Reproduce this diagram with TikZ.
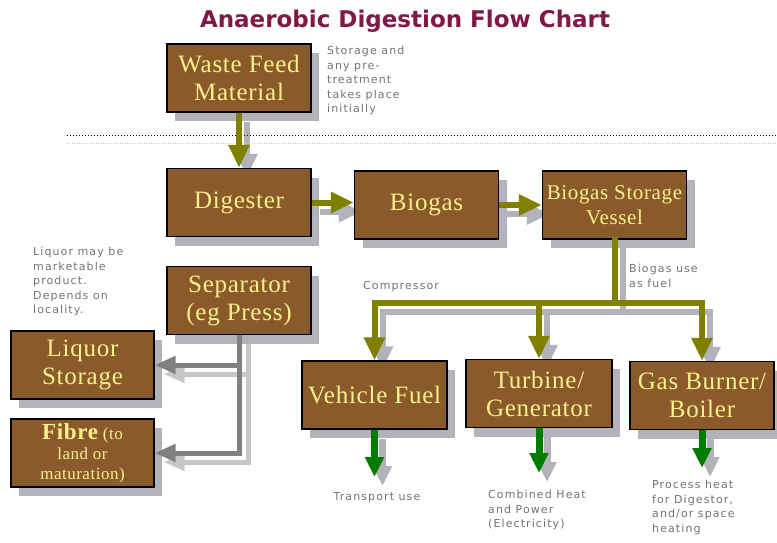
\documentclass[tikz,border=0pt]{standalone}
\usepackage{fontspec}
\setmainfont{Liberation Serif}
\newfontfamily\boxserif[LetterSpace=3]{Liberation Serif}
\newfontfamily\notesans[LetterSpace=10]{DejaVu Sans}
\newfontfamily\titlesans{DejaVu Sans}
\usepackage{tikz}
\usetikzlibrary{arrows.meta, positioning, shadows, backgrounds}
\definecolor{boxBrown}{RGB}{139,90,43}
\definecolor{boxText}{RGB}{250,240,140}
\definecolor{boxShade}{RGB}{178,178,186}
\definecolor{flowOlive}{RGB}{128,128,0}
\definecolor{flowGreen}{RGB}{0,125,0}
\definecolor{flowGrey}{RGB}{128,128,128}
\definecolor{noteGrey}{RGB}{115,115,115}
\definecolor{titleMaroon}{RGB}{128,24,72}

\tikzset{
  stage/.style={draw=black, line width=1.3pt, fill=boxBrown, text=boxText,
    minimum width=144pt, minimum height=68pt, inner sep=1pt, align=center,
    font=\boxserif\fontsize{25}{28}\selectfont,
    drop shadow={shadow xshift=8pt, shadow yshift=-9pt, fill=boxShade, opacity=1}},
  note/.style={font=\notesans\fontsize{11}{14.6}\selectfont, text=noteGrey, align=left, inner sep=0pt},
  feedline/.style={draw=flowOlive, line width=6pt, line cap=rect},
  feedarrow/.style={draw=flowOlive, line width=6pt, -{Triangle[width=20pt,length=23pt]}},
  splitarrow/.style={draw=flowGrey, line width=5pt, -{Triangle[width=17pt,length=21pt]}},
  usearrow/.style={draw=flowGreen, line width=7pt, -{Triangle[width=18pt,length=20pt]}},
  arrowshade/.style={draw=boxShade, transform canvas={shift={(8pt,-9pt)}}},
  splitshade/.style={draw=flowGrey!45, transform canvas={shift={(9pt,-9pt)}}}
}

\begin{document}
\begin{tikzpicture}[x=1pt, y=-1pt]
  \useasboundingbox (0,0) rectangle (777,542);

  % Title and pre-treatment rule
  \node[font=\titlesans\bfseries\fontsize{23}{28}\selectfont, text=titleMaroon] (title) at (405,21) {Anaerobic Digestion Flow Chart};
  \coordinate (ruleL) at (67,135);
  \coordinate (ruleR) at (777,135);
  \draw[dotted, line width=1pt] (ruleL) -- (ruleR);
  \draw[dotted, noteGrey!40] ([yshift=-8pt]ruleL) -- ([yshift=-8pt]ruleR);

  % Process stages
  \node[stage] (waste) at (239,78) {Waste Feed\\Material};
  \node[stage] (digester) at (239,202.5) {Digester};
  \node[stage] (separator) at (239,300.5) {Separator\\(eg Press)};
  \node[stage] (biogas) at (426.5,205) {Biogas};
  \node[stage, font=\boxserif\fontsize{21}{25}\selectfont] (storage) at (614.5,205) {Biogas Storage\\Vessel};
  \node[stage, minimum width=143pt] (liquor) at (82.5,365) {Liquor\\Storage};
  \node[stage, minimum width=143pt, font=\boxserif\fontsize{17}{20}\selectfont] (fibre) at (82.5,453) {{\fontsize{23}{20}\selectfont\bfseries Fibre} (to\\land or\\maturation)};
  \node[stage, minimum width=145pt] (vehicle) at (374.5,395) {Vehicle Fuel};
  \node[stage, minimum width=146pt] (turbine) at (539,393.5) {Turbine/\\Generator};
  \node[stage] (burner) at (702,395.5) {Gas Burner/\\Boiler};

  % Notes
  \node[note, anchor=north west] (pretreat) at (327,46) {Storage and\\any pre-\\treatment\\takes place\\initially};
  \node[note, anchor=north west] (liquornote) at (33,247) {Liquor may be\\marketable\\product.\\Depends on\\locality.};
  \node[note, anchor=west] (compressor) at (363,287) {Compressor};
  \node[note, anchor=north west] (fuelnote) at (629,264) {Biogas use\\as fuel};
  \node[note, anchor=north] (transport) at (377,492) {Transport use};
  \node[note, anchor=north west] (chp) at (488,490) {Combined Heat\\and Power\\(Electricity)};
  \node[note, anchor=north west] (heatuse) at (652,480) {Process heat\\for Digestor,\\and/or space\\heating};

  \coordinate (hub) at (614.5,303);

  % Arrow shadows
  \begin{scope}[on background layer]
    \fill[white] (0,0) rectangle (777,542);
    \draw[feedarrow, arrowshade] (waste) -- (digester);
    \draw[feedarrow, arrowshade] (digester) -- (digester -| biogas.west);
    \draw[feedarrow, arrowshade] (biogas) -- (storage);
    \draw[feedline, arrowshade] (storage) -- (hub);
    \draw[feedarrow, arrowshade] (hub) -| (vehicle);
    \draw[feedarrow, arrowshade] (hub) -| (burner);
    \draw[feedarrow, arrowshade] (hub -| turbine) -- (turbine);
    \draw[splitarrow, splitshade] (separator) |- (fibre);
    \draw[splitarrow, splitshade] (separator.south |- liquor) -- (liquor);
    \draw[usearrow, arrowshade, shorten >=15pt] (vehicle) -- (vehicle |- transport.north);
    \draw[usearrow, arrowshade, shorten >=17pt] (turbine) -- (turbine |- chp.north);
    \draw[usearrow, arrowshade, shorten >=12pt] (burner) -- (burner |- heatuse.north);
  \end{scope}

  % Flows
  \draw[feedarrow] (waste) -- (digester);
  \draw[feedarrow] (digester) -- (digester -| biogas.west);
  \draw[feedarrow] (biogas) -- (storage);
  \draw[feedline] (storage) -- (hub);
  \draw[feedarrow] (hub) -| (vehicle);
  \draw[feedarrow] (hub) -| (burner);
  \draw[feedarrow] (hub -| turbine) -- (turbine);
  \draw[splitarrow] (separator) |- (fibre);
  \draw[splitarrow] (separator.south |- liquor) -- (liquor);
  \draw[usearrow, shorten >=15pt] (vehicle) -- (vehicle |- transport.north);
  \draw[usearrow, shorten >=17pt] (turbine) -- (turbine |- chp.north);
  \draw[usearrow, shorten >=12pt] (burner) -- (burner |- heatuse.north);
\end{tikzpicture}
\end{document}
